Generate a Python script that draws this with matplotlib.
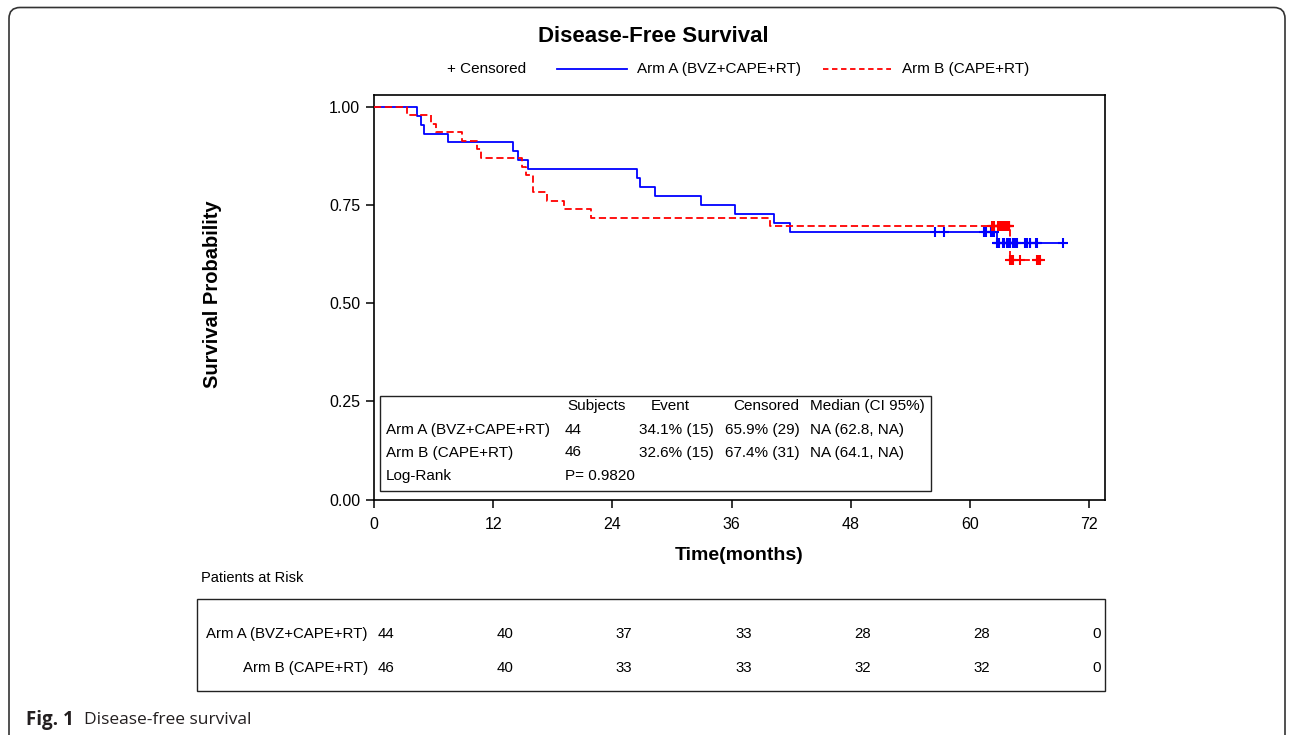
import numpy as np
import matplotlib
matplotlib.use("Agg")
import matplotlib.pyplot as plt
import matplotlib.transforms as mtransforms
from matplotlib.patches import FancyBboxPatch, Rectangle
from matplotlib.lines import Line2D

plt.rcParams["font.family"] = ["Liberation Sans", "DejaVu Sans"]

# ── data (months) ─────────────────────────────────────
N_A = 44
N_B = 46
events_a = [4.3, 4.7, 5.05, 7.45, 14.0, 14.5, 15.55, 26.5, 26.8, 28.3,
            32.9, 36.3, 40.3, 41.9, 62.7]
censor_a = [56.5, 57.4, 61.4, 61.6, 62.1, 62.3, 62.45,
            62.75, 62.85, 62.9, 63.3, 63.4, 63.7, 63.8, 63.85, 64.0, 64.05,
            64.35, 64.45, 64.55, 64.6, 64.7, 65.5, 65.7, 66.0, 66.05, 66.7,
            66.75, 69.4]
events_b = [3.3, 5.7, 6.2, 8.9, 10.4, 10.75, 14.95, 15.35, 16.0, 16.0,
            17.4, 19.1, 21.8, 39.9, 64.0]
censor_b = [62.2, 62.3, 62.4, 62.85, 62.9, 62.95, 63.0, 63.05, 63.1, 63.15,
            63.2, 63.25, 63.3, 63.35, 63.4, 63.45, 63.5, 63.55, 63.6, 63.65,
            63.7, 63.8, 63.9, 63.95,
            64.05, 64.1, 64.3, 65.0, 66.75, 66.85, 67.05]

risk_times = [0, 12, 24, 36, 48, 60, 72]
risk_a = [44, 40, 37, 33, 28, 28, 0]
risk_b = [46, 40, 33, 33, 32, 32, 0]

label_a = "Arm A (BVZ+CAPE+RT)"
label_b = "Arm B (CAPE+RT)"

stats_header = ["Subjects", "Event", "Censored", "Median (CI 95%)"]
stats_a = ["44", "34.1% (15)", "65.9% (29)", "NA (62.8, NA)"]
stats_b = ["46", "32.6% (15)", "67.4% (31)", "NA (64.1, NA)"]
logrank = "P= 0.9820"

C_A = "#0000ff"
C_B = "#ff0000"

W, H = 1292, 735


def fx(px):
    return px / W


def fy(py):
    return 1 - py / H


def km_curve(events, censored, n):
    ev = np.array(events)
    ce = np.array(censored)
    times = np.unique(np.concatenate([ev, ce]))
    s = 1.0
    at_risk = n
    xs, ys, cx, cy = [0.0], [1.0], [], []
    for t in times:
        d = int(np.sum(ev == t))
        c = int(np.sum(ce == t))
        if d:
            s *= 1 - d / at_risk
            xs.append(t)
            ys.append(s)
        if c:
            cx += [t] * c
            cy += [s] * c
        at_risk -= d + c
    xs.append(times[-1])
    ys.append(s)
    return xs, ys, cx, cy


fig = plt.figure(figsize=(W / 100, H / 100), dpi=100)

# outer rounded frame
frame = FancyBboxPatch((9, -30), 1276, 735 - 7.5 + 30,
                       boxstyle="round,pad=0,rounding_size=11",
                       transform=mtransforms.IdentityTransform(),
                       fill=False, lw=1.2, ec="#333333")
fig.patches.append(frame)

ax = fig.add_axes([fx(374), fy(499.5), fx(1105) - fx(374), fy(95) - fy(499.5)])

xa, ya, cxa, cya = km_curve(events_a, censor_a, N_A)
xb, yb, cxb, cyb = km_curve(events_b, censor_b, N_B)

ax.step(xa, ya, where="post", color=C_A, lw=1.3, zorder=3)
ax.step(xb, yb, where="post", color=C_B, lw=1.3, dashes=(4, 2), zorder=4)
ax.plot(cxa, cya, ls="none", marker="+", ms=7.5, mew=1.5, color=C_A, zorder=5)
ax.plot(cxb, cyb, ls="none", marker="+", ms=7.5, mew=1.5, color=C_B, zorder=5)

ax.set_xlim(0, 73.6)
ax.set_ylim(0, 1.03)
ax.set_xticks(risk_times)
ax.set_yticks([0, 0.25, 0.5, 0.75, 1.0])
ax.set_yticklabels(["0.00", "0.25", "0.50", "0.75", "1.00"])
ax.tick_params(direction="out", length=6, width=1.1, labelsize=11.5, pad=4)
ax.tick_params(axis="x", pad=6.5)
for sp in ax.spines.values():
    sp.set_linewidth(1.2)

# titles / axis labels
fig.text(fx(653), fy(37), "Disease-Free Survival", ha="center", va="center",
         fontsize=16, fontweight="bold")
fig.text(fx(212), fy(294), "Survival Probability", rotation=90, ha="center",
         va="center", fontsize=14.5, fontweight="bold")
fig.text(fx(739.5), fy(555), "Time(months)", ha="center", va="center",
         fontsize=14, fontweight="bold")

# legend row
fig.text(fx(447), fy(69), "+ Censored", ha="left", va="center", fontsize=11)
fig.lines.append(Line2D([fx(557), fx(627)], [fy(69), fy(69)],
                        transform=fig.transFigure, color=C_A, lw=1.3))
fig.text(fx(637), fy(69), label_a, ha="left", va="center", fontsize=11)
fig.lines.append(Line2D([fx(823), fx(891)], [fy(69), fy(69)],
                        transform=fig.transFigure, color=C_B, lw=1.3,
                        dashes=(3, 2)))
fig.text(fx(902), fy(69), label_b, ha="left", va="center", fontsize=11)

# stats box inside the plot
fig.patches.append(Rectangle((fx(380), fy(491)), fx(931) - fx(380),
                             fy(396) - fy(491), transform=fig.transFigure,
                             fill=False, lw=1.0, ec="#222222", zorder=6))
col_x = [567, 651, 733, 810]
for x, t in zip(col_x, stats_header):
    fig.text(fx(x), fy(406), t, ha="left", va="center", fontsize=11)
val_x = [565, 639, 725, 810]
for row_y, name, vals in [(429.5, label_a, stats_a), (452.5, label_b, stats_b)]:
    fig.text(fx(386), fy(row_y), name, ha="left", va="center", fontsize=11)
    for x, v in zip(val_x, vals):
        fig.text(fx(x), fy(row_y), v, ha="left", va="center", fontsize=11)
fig.text(fx(386), fy(476), "Log-Rank", ha="left", va="center", fontsize=11)
fig.text(fx(565), fy(476), logrank, ha="left", va="center", fontsize=11)

# patients at risk
fig.text(fx(201), fy(578), "Patients at Risk", ha="left", va="center",
         fontsize=10.5)
fig.patches.append(Rectangle((fx(197), fy(691)), fx(1105) - fx(197),
                             fy(599) - fy(691), transform=fig.transFigure,
                             fill=False, lw=1.0, ec="#222222"))
blend = mtransforms.blended_transform_factory(ax.transData, fig.transFigure)
for row_y, name, counts in [(634, label_a, risk_a), (668, label_b, risk_b)]:
    fig.text(fx(368), fy(row_y), name, ha="right", va="center", fontsize=10.8)
    for t, c in zip(risk_times, counts):
        fig.text(t + 0.35, fy(row_y), str(c), transform=blend, ha="left",
                 va="center", fontsize=10.8)

# caption
fig.text(fx(26), fy(720), "Fig. 1", ha="left", va="center", fontsize=13.5,
         fontweight="bold", family=["Open Sans", "DejaVu Sans"], color="#231f20")
fig.text(fx(84), fy(720), "Disease-free survival", ha="left", va="center",
         fontsize=12.5, family=["Open Sans", "DejaVu Sans"], color="#231f20")

fig.savefig("out.png", dpi=100)
